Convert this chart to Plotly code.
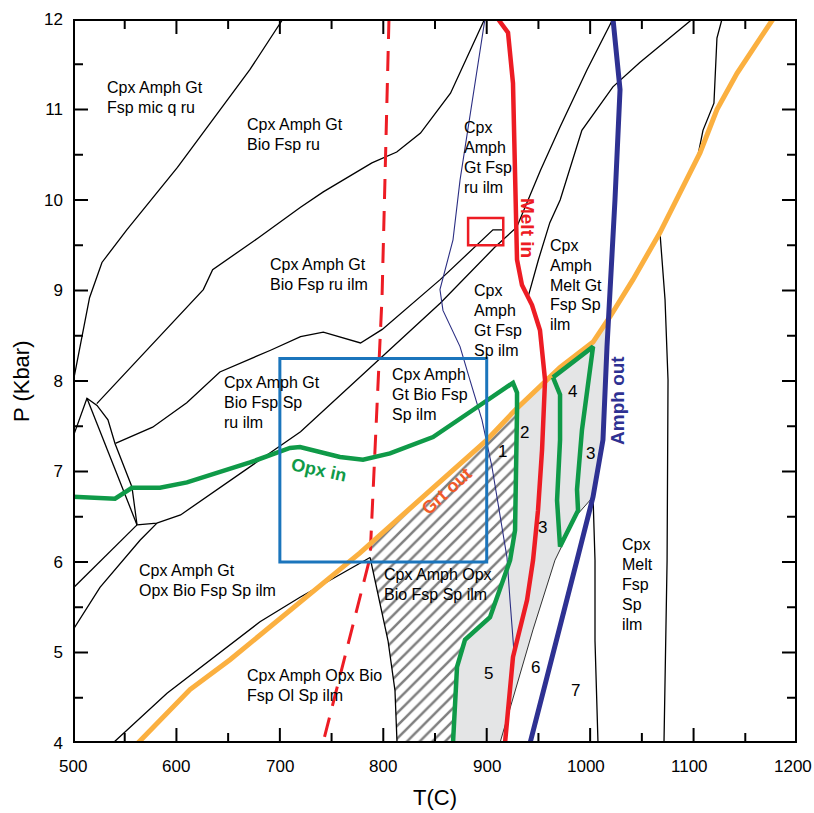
import plotly.graph_objects as go

# ---------------------------------------------------------------
# Phase-field boundaries of the pseudosection (T in °C, P in kbar)
# ---------------------------------------------------------------
# thin black reaction lines
mic_T = [703, 671, 601, 552, 528, 516, 500]
mic_P = [12.0, 11.44, 10.36, 9.67, 9.31, 8.92, 7.98]

ru_T = [898, 865, 836, 813, 789, 742, 720, 679, 635, 626, 523]
ru_P = [12.0, 11.18, 10.74, 10.53, 10.41, 10.09, 9.92, 9.58, 9.23, 9.01, 7.75]

sp_T = [541, 577, 610, 642, 691, 720, 742, 778, 799, 855, 906, 915]
sp_P = [7.31, 7.49, 7.76, 8.10, 8.34, 8.49, 8.54, 8.42, 8.57, 9.12, 9.67, 9.67]

opx_T = [1022, 997, 971, 952, 929, 908, 855, 720, 604, 581, 562]
opx_P = [12.0, 11.44, 10.81, 10.33, 9.70, 9.48, 8.86, 7.44, 6.52, 6.43, 6.41]

meltgt_T = [1099, 1048, 1022, 992, 971, 961, 950, 940]
meltgt_P = [12.0, 11.52, 11.25, 10.77, 10.0, 9.75, 9.34, 8.93]

hiT_top_T = [1127.5, 1122.6, 1119.7, 1109.1, 1103.3]
hiT_top_P = [12.0, 11.79, 11.07, 10.77, 10.44]

hiT_low_T = [1067.5, 1072.4, 1075.3, 1074.4, 1071.4]
hiT_low_P = [9.64, 8.90, 8.01, 6.02, 4.0]

amph7_T = [1002.8, 1004.7, 1004.7, 1007.6]
amph7_P = [6.72, 6.02, 5.13, 4.0]

field56_T = [1002.8, 987.3, 966, 944.7, 912.8]
field56_P = [6.72, 6.52, 6.02, 5.25, 4.0]

lens_a_T = [500, 513.5, 523.2, 533.8, 540.6, 557, 561.9]
lens_a_P = [7.38, 7.81, 7.73, 7.57, 7.31, 6.83, 6.41]
lens_b_T = [513.5, 561.9]
lens_b_P = [7.81, 6.41]

low1_T = [561.9, 500]
low1_P = [6.41, 5.71]
low2_T = [581.2, 564.8, 526.1, 500]
low2_P = [6.43, 6.24, 5.72, 5.25]

ol_T = [538.7, 590.9, 680.8, 719.5, 787.2]
ol_P = [4.0, 4.55, 5.34, 5.61, 6.05]

hatch_left_T = [787.2, 793.9, 804.6, 811.3, 813.3]
hatch_left_P = [6.05, 5.68, 5.13, 4.58, 4.0]

# thin navy line
navy_T = [898.3, 886.7, 874.2, 867.4, 857.7, 854.8, 857.7, 874.2, 883.8,
          895.4, 905.1, 912.8, 919.6, 922.5, 926.4]
navy_P = [12.0, 11.16, 10.22, 9.56, 9.15, 9.01, 8.78, 8.38, 8.01,
          7.57, 7.05, 6.54, 6.05, 5.58, 5.0]

# bold coloured boundaries
melt_T = [910.9, 920.6, 925.4, 927.4, 929.3, 934.1, 943.8, 951.5, 956.4,
          953.5, 949.6, 944.8, 939.0, 925.4, 917.7]
melt_P = [12.0, 11.85, 11.29, 10.0, 9.34, 9.06, 8.84, 8.56, 8.01,
          7.24, 6.57, 6.02, 5.58, 4.95, 4.0]

amph_T = [1022.1, 1028.9, 1024.0, 1018.2, 1017.3, 1016.3, 1012.4, 1002.8, 987.3, 941.9]
amph_P = [12.0, 11.22, 10.0, 8.90, 8.67, 8.38, 7.35, 6.72, 6.02, 4.0]

grt_T = [562.8, 613.1, 651.8, 719.5, 777.5, 900.3, 929.3, 970.9, 1002.8,
         1019.2, 1041.4, 1067.5, 1106.2, 1122.6, 1142.0, 1176.8]
grt_P = [4.0, 4.59, 4.92, 5.55, 6.10, 7.35, 7.70, 8.15, 8.43,
         8.71, 9.12, 9.64, 10.52, 11.0, 11.40, 12.0]

opxin_T = [500, 540.6, 557, 584.1, 610.2, 671.1, 709.8, 719.5, 758.1, 780.4,
           806.5, 848.1, 890.6, 925.4, 929.3, 929.3, 927.4, 922.6, 903.2,
           879.0, 871.3, 867.4]
opxin_P = [6.72, 6.70, 6.82, 6.82, 6.88, 7.10, 7.26, 7.27, 7.16, 7.13,
           7.20, 7.38, 7.71, 7.98, 7.87, 7.68, 6.35, 6.02, 5.39,
           5.14, 4.84, 4.0]

green2_T = [964.1, 970.9, 970.9, 968.0, 970.9, 988.3, 987.3, 992.1, 1002.8, 964.1]
green2_P = [8.04, 7.85, 7.35, 6.68, 6.17, 6.57, 6.80, 7.46, 8.38, 8.04]

dash_T = [805.5, 798.8, 787.2, 741.7]
dash_P = [12.0, 8.93, 6.05, 4.0]

# shaded fields
grey_T = [929.3, 970.9, 1002.8, 1017.3, 1016.3, 1012.4, 1002.8, 987.3, 966,
          944.7, 912.8, 867.4, 871.3, 879.0, 903.2, 922.6, 927.4, 929.3]
grey_P = [7.70, 8.15, 8.43, 8.67, 8.38, 7.35, 6.72, 6.52, 6.02,
          5.25, 4.0, 4.0, 4.84, 5.14, 5.39, 6.02, 6.35, 7.68]

hatch_T = [787.2, 900.3, 929.3, 929.3, 927.4, 922.6, 903.2, 879.0, 871.3, 867.4,
           813.3, 811.3, 804.6, 793.9, 787.2]
hatch_P = [6.20, 7.35, 7.70, 7.68, 6.35, 6.02, 5.39, 5.14, 4.84, 4.0,
           4.0, 4.58, 5.13, 5.68, 6.05]

# boxes: (Tmin, Tmax, Pmin, Pmax)
blue_box = (700, 900, 6.0, 8.25)
red_box = (882, 916, 9.5, 9.8)

# field labels: (T of left edge, P of first line, lines)
field_labels = [
    (530.9, 11.24, ["Cpx Amph Gt", "Fsp mic q ru"]),
    (666.3, 10.83, ["Cpx Amph Gt", "Bio Fsp ru"]),
    (876.1, 10.80, ["Cpx", "Amph", "Gt Fsp", "ru ilm"]),
    (688.5, 9.29, ["Cpx Amph Gt", "Bio Fsp ru ilm"]),
    (885.8, 9.00, ["Cpx", "Amph", "Gt Fsp", "Sp ilm"]),
    (959.3, 9.50, ["Cpx", "Amph", "Melt Gt", "Fsp Sp", "ilm"]),
    (644.1, 7.98, ["Cpx Amph Gt", "Bio Fsp Sp", "ru ilm"]),
    (806.5, 8.07, ["Cpx Amph", "Gt Bio Fsp", "Sp ilm"]),
    (561.9, 5.91, ["Cpx Amph Gt", "Opx Bio Fsp Sp ilm"]),
    (798.8, 5.86, ["Cpx Amph Opx", "Bio Fsp Sp ilm"]),
    (666.3, 4.75, ["Cpx Amph Opx Bio", "Fsp Ol Sp ilm"]),
    (1028.9, 6.19, ["Cpx", "Melt", "Fsp", "Sp", "ilm"]),
]

num_T = [914.8, 937.0, 954.4, 983.4, 999.9, 902.2, 947.6, 985.4]
num_P = [7.22, 7.43, 6.38, 7.88, 7.20, 4.77, 4.83, 4.58]
num_txt = ["1", "2", "3", "4", "3", "5", "6", "7"]

# axis ranges and tick spacing
T_RANGE = (500, 1200)
P_RANGE = (4, 12)
T_MAJOR, T_MINOR = 100, 50
P_MAJOR, P_MINOR = 1.0, 0.5

# figure geometry
FIG_W, FIG_H = 814, 813
M_L, M_R, M_T, M_B = 73, 17, 19, 70
T_PER_PX = (T_RANGE[1] - T_RANGE[0]) / (FIG_W - M_L - M_R)
P_PER_PX = (P_RANGE[1] - P_RANGE[0]) / (FIG_H - M_T - M_B)
TICK_MAJOR_PX, TICK_MINOR_PX = 15, 10

RED = "#ed1c24"
NAVY = "#2e3192"
GREEN = "#0f9a48"
ORANGE = "#fbb040"
BLUE = "#1b75bc"
FONT = "Liberation Sans, Arial, sans-serif"

fig = go.Figure()


def add_line(T, P, color="black", width=1.3, dash=None):
    fig.add_trace(go.Scatter(x=T, y=P, mode="lines",
                             line=dict(color=color, width=width, dash=dash),
                             hoverinfo="skip", showlegend=False))


# shaded and hatched fields
fig.add_trace(go.Scatter(x=grey_T, y=grey_P, mode="lines", fill="toself",
                         fillcolor="#e4e5e6", line=dict(width=0),
                         hoverinfo="skip", showlegend=False))
fig.add_trace(go.Scatter(x=hatch_T, y=hatch_P, mode="lines", fill="toself",
                         fillcolor="white",
                         fillpattern=dict(shape="/", fgcolor="black", bgcolor="white",
                                          size=9, solidity=0.28),
                         line=dict(width=0), hoverinfo="skip", showlegend=False))

# thin black reactions
for T, P in [(mic_T, mic_P), (ru_T, ru_P), (sp_T, sp_P), (opx_T, opx_P),
             (meltgt_T, meltgt_P), (hiT_top_T, hiT_top_P), (hiT_low_T, hiT_low_P),
             (amph7_T, amph7_P), (lens_a_T, lens_a_P), (lens_b_T, lens_b_P),
             (low1_T, low1_P), (low2_T, low2_P), (ol_T, ol_P),
             (hatch_left_T, hatch_left_P)]:
    add_line(T, P)
add_line(field56_T, field56_P, width=0.8)
add_line(navy_T, navy_P, color="#2b2e83", width=1.1)

# bold boundaries
add_line(dash_T, dash_P, color=RED, width=3, dash="20px,12px")
add_line(grt_T, grt_P, color=ORANGE, width=5)
add_line(opxin_T, opxin_P, color=GREEN, width=4.5)
add_line(green2_T, green2_P, color=GREEN, width=4.5)
add_line(melt_T, melt_P, color=RED, width=4.5)
add_line(amph_T, amph_P, color=NAVY, width=5)

# boxes
for (t0, t1, p0, p1), col, w in [(blue_box, BLUE, 3), (red_box, RED, 2.5)]:
    fig.add_shape(type="rect", x0=t0, x1=t1, y0=p0, y1=p1,
                  line=dict(color=col, width=w), fillcolor="rgba(0,0,0,0)")

# inward tick marks on all four sides of the frame
tx, ty = [], []
n_t = int(round((T_RANGE[1] - T_RANGE[0]) / T_MINOR))
for k in range(1, n_t):
    t = T_RANGE[0] + k * T_MINOR
    px = TICK_MAJOR_PX if k % int(T_MAJOR / T_MINOR) == 0 else TICK_MINOR_PX
    d = px * P_PER_PX
    tx += [t, t, None, t, t, None]
    ty += [P_RANGE[0], P_RANGE[0] + d, None, P_RANGE[1], P_RANGE[1] - d, None]
n_p = int(round((P_RANGE[1] - P_RANGE[0]) / P_MINOR))
for k in range(1, n_p):
    p = P_RANGE[0] + k * P_MINOR
    px = TICK_MAJOR_PX if k % int(P_MAJOR / P_MINOR) == 0 else TICK_MINOR_PX
    d = px * T_PER_PX
    tx += [T_RANGE[0], T_RANGE[0] + d, None, T_RANGE[1], T_RANGE[1] - d, None]
    ty += [p, p, None, p, p, None]
fig.add_trace(go.Scatter(x=tx, y=ty, mode="lines", line=dict(color="black", width=2),
                         hoverinfo="skip", showlegend=False))

# frame (drawn wide so the inner half survives the plot-area clip)
fig.add_trace(go.Scatter(
    x=[T_RANGE[0], T_RANGE[1], T_RANGE[1], T_RANGE[0], T_RANGE[0]],
    y=[P_RANGE[0], P_RANGE[0], P_RANGE[1], P_RANGE[1], P_RANGE[0]],
    mode="lines", line=dict(color="black", width=4),
    hoverinfo="skip", showlegend=False))

annots = []
LINE_STEP = 0.22
for T, P, lines in field_labels:
    for i, txt in enumerate(lines):
        annots.append(dict(x=T, y=P - i * LINE_STEP, text=txt, showarrow=False,
                           xanchor="left", yanchor="middle",
                           font=dict(family=FONT, size=16, color="black")))
for T, P, txt in zip(num_T, num_P, num_txt):
    annots.append(dict(x=T, y=P, text=txt, showarrow=False,
                       font=dict(family=FONT, size=17, color="black")))

# temperature tick labels
for t in range(T_RANGE[0], T_RANGE[1] + 1, T_MAJOR):
    annots.append(dict(x=t, y=0, yref="paper", text=str(t), showarrow=False,
                       yanchor="middle", yshift=-23, xshift=-4 if t >= 1000 else 0,
                       font=dict(family=FONT, size=17, color="black")))

# boundary names
annots += [
    dict(x=940, y=9.69, text="<b>Melt in</b>", textangle=90, showarrow=False,
         font=dict(family=FONT, size=19, color=RED)),
    dict(x=1027, y=7.78, text="<b>Amph out</b>", textangle=-90, showarrow=False,
         font=dict(family=FONT, size=19, color=NAVY)),
    dict(x=737.8, y=7.02, text="<b>Opx in</b>", textangle=12, showarrow=False,
         font=dict(family=FONT, size=18, color=GREEN)),
    dict(x=861.6, y=6.78, text="<b>Grt out</b>", textangle=-42, showarrow=False,
         font=dict(family=FONT, size=18, color="#f15a29")),
]

# axis titles
annots += [
    dict(x=0.5, y=0, xref="paper", yref="paper", yshift=-54, text="T(C)",
         showarrow=False, yanchor="middle",
         font=dict(family=FONT, size=22, color="black")),
    dict(x=0, y=0.5, xref="paper", yref="paper", xshift=-52, text="P (Kbar)",
         textangle=-90, showarrow=False, xanchor="center",
         font=dict(family=FONT, size=22, color="black")),
]

fig.update_layout(
    width=FIG_W, height=FIG_H,
    margin=dict(l=M_L, r=M_R, t=M_T, b=M_B, autoexpand=False),
    paper_bgcolor="white", plot_bgcolor="white",
    showlegend=False,
    annotations=annots,
    xaxis=dict(range=list(T_RANGE), showgrid=False, zeroline=False, showline=False,
               ticks="", showticklabels=False, automargin=False),
    yaxis=dict(range=list(P_RANGE), tick0=P_RANGE[0], dtick=P_MAJOR, showgrid=False,
               zeroline=False, showline=False, ticks="", automargin=False,
               ticklabelstandoff=9,
               tickfont=dict(family=FONT, size=17, color="black")),
)

fig.write_html("out.html")
